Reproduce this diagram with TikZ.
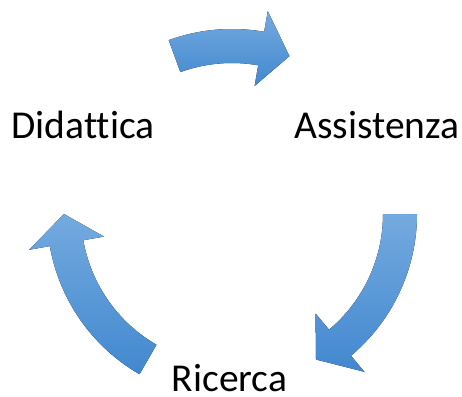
\documentclass[tikz,border=0pt]{standalone}
\usepackage{fontspec}
\setmainfont[Ligatures=NoCommon]{Carlito}
\definecolor{arrowlight}{RGB}{116,170,223}
\definecolor{arrowdark}{RGB}{66,136,207}

\begin{document}
\begin{tikzpicture}[x=1pt,y=1pt]
\tikzstyle{every node}+=[inner sep=0pt]
\tikzstyle{label}=[anchor=base,font=\fontsize{39.5}{46}\selectfont]
\tikzstyle{blockarrow}=[top color=arrowlight,bottom color=arrowdark,draw=none]
\useasboundingbox (0,0) rectangle (462,-396);
\node [label] (didattica) at (83,-138) {Didattica};
\node [label] (assistenza) at (377,-138) {Assistenza};
\node [label] (ricerca) at (229.5,-391) {Ricerca};
\begin{scope}[shift={(232,-214)}]
\foreach \a/\e in {110/70, 0/-60, -120/-180} {
  \pgfmathsetmacro{\b}{\e+10}
  \fill [blockarrow] (\a:185) arc[start angle=\a, end angle=\b, radius=185]
    -- (\b:206) -- (\e:168) -- (\b:130) -- (\b:151)
    arc[start angle=\b, end angle=\a, radius=151] -- cycle;
}
\end{scope}
\end{tikzpicture}
\end{document}
